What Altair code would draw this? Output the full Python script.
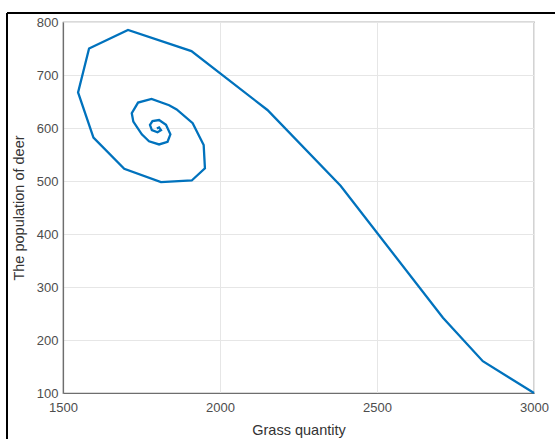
import altair as alt
import pandas as pd

# Trajectory of the grass/deer system, from the starting state to the equilibrium
grass = [3000, 2837, 2710, 2384, 2151, 1909, 1707, 1583, 1548, 1597, 1695, 1812,
         1910, 1952, 1948, 1913, 1862, 1838, 1782, 1739, 1719, 1724, 1751, 1774,
         1806, 1833, 1842, 1828, 1806, 1785, 1777, 1783, 1801, 1812, 1806, 1799]
deer = [100, 160, 242, 491, 634, 745, 785, 750, 667, 582, 523, 498,
        501, 524, 568, 609, 635, 643, 655, 648, 628, 612, 588, 575,
        569, 574, 588, 606, 615, 613, 606, 596, 592, 596, 601, 599]

df = pd.DataFrame({"grass": grass, "deer": deer, "step": list(range(len(grass)))})

font = "Liberation Sans"

x_enc = alt.X("grass:Q", title="Grass quantity",
              scale=alt.Scale(domain=[1500, 3000], nice=False, zero=False),
              axis=alt.Axis(values=[1500, 2000, 2500, 3000], format="d"))
y_enc = alt.Y("deer:Q", title="The population of deer",
              scale=alt.Scale(domain=[100, 800], nice=False, zero=False),
              axis=alt.Axis(values=[100, 200, 300, 400, 500, 600, 700, 800], format="d"))

line = alt.Chart(df).mark_line(color="#0072BD", strokeWidth=2.3, clip=False).encode(
    x=x_enc, y=y_enc, order="step:Q"
)

# Outer figure frame (left and top edges)
frame_top = alt.Chart(df).mark_rule(color="#000000", strokeWidth=2).encode(
    x=alt.value(-56), x2=alt.value(520), y=alt.value(-9)
)
frame_left = alt.Chart(df).mark_rule(color="#000000", strokeWidth=2).encode(
    x=alt.value(-56), y=alt.value(-9), y2=alt.value(430)
)

chart = alt.layer(line, frame_top, frame_left).properties(
    width=471, height=371,
    padding={"left": 63, "top": 22, "right": 21, "bottom": 46},
    autosize=alt.AutoSizeParams(type="none"),
    background="white",
).configure_view(
    stroke="#6e6e6e", strokeWidth=1.2
).configure_axis(
    labelFont=font, titleFont=font,
    labelFontSize=13, titleFontSize=14.5,
    labelColor="#4d4d4d", titleColor="#333333",
    titleFontWeight="normal",
    domainColor="#6e6e6e", domainWidth=1.2,
    gridColor="#e6e6e6", gridWidth=1,
    ticks=False,
).configure_axisX(
    labelPadding=8, titlePadding=9, labelFlush=False
).configure_axisY(
    labelPadding=5, titlePadding=10
)

chart.save("out.html", embed_options={"renderer": "svg", "actions": False})
